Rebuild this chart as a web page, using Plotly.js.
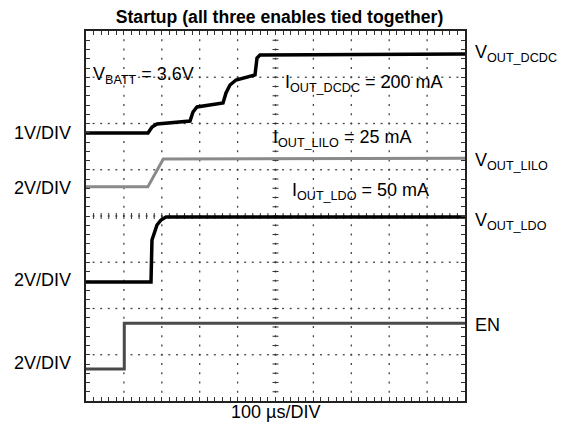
<!DOCTYPE html>
<html><head><meta charset="utf-8">
<script src="https://cdn.plot.ly/plotly-3.0.1.min.js"></script>
<style>html,body{margin:0;padding:0;background:#fff}#chart{width:565px;height:434px}</style>
</head><body><div id="chart"></div>
<script>
// Time in divisions (100 µs/DIV), voltage in screen divisions
const dcdcT = [0, 1.636, 1.742, 1.873, 2.744, 2.823, 2.929, 3.615, 3.694, 3.799, 3.958, 4.380, 4.459, 4.512, 4.591, 10];
const dcdcV = [5.795, 5.795, 5.924, 5.989, 6.054, 6.249, 6.357, 6.443, 6.659, 6.832, 6.941, 7.027, 7.049, 7.416, 7.481, 7.503];
const liloT = [0, 1.63, 2.04, 10];
const liloV = [4.63, 4.63, 5.23, 5.25];
const ldoT = [0, 1.715, 1.741, 1.794, 1.873, 1.979, 2.111, 10];
const ldoV = [2.573, 2.573, 3.481, 3.632, 3.805, 3.914, 3.978, 3.978];
const enT = [0, 1.01, 1.01, 10];
const enV = [0.69, 0.69, 1.68, 1.68];
// screen graticule
const xDivs = [1, 2, 3, 4, 5, 6, 7, 8, 9];
const yDivs = [1, 2, 3, 4, 5, 6, 7];
const xCenter = 5, yCenter = 4, subDiv = 5, nXDiv = 10, nYDiv = 8;

const FONT = 'Liberation Sans, Arial, sans-serif';
const FS = 18;
const traces = [
  {x: dcdcT, y: dcdcV, mode: 'lines', line: {color: '#000', width: 3.5}, hoverinfo: 'skip'},
  {x: liloT, y: liloV, mode: 'lines', line: {color: '#8a8a8a', width: 3}, hoverinfo: 'skip'},
  {x: ldoT, y: ldoV, mode: 'lines', line: {color: '#000', width: 3.5}, hoverinfo: 'skip'},
  {x: enT, y: enV, mode: 'lines', line: {color: '#4a4a4a', width: 3}, hoverinfo: 'skip'}
];

const frameAx = {
  showline: true, linecolor: '#222', linewidth: 2, mirror: 'ticks',
  ticks: 'inside', ticklen: 4, tickcolor: '#333', tickwidth: 1,
  showticklabels: false, zeroline: false, fixedrange: true, showgrid: false,
  minor: {dtick: 0.2, ticks: 'inside', ticklen: 4, tickcolor: '#333', tickwidth: 1, showgrid: false}
};

const dotLine = {color: '#444', width: 1.3};
const tickLine = {color: '#333', width: 1};
const xSub = Array.from({length: nXDiv * subDiv - 1}, (_, i) => (i + 1) / subDiv);
const ySub = Array.from({length: nYDiv * subDiv - 1}, (_, i) => (i + 1) / subDiv);
const shapes = [];
// dotted graticule lines (one short dash per sub-division)
xDivs.forEach(gx => ySub.forEach(sy => shapes.push({type: 'line', layer: 'below', xref: 'x', yref: 'y',
  ysizemode: 'pixel', yanchor: sy, x0: gx, x1: gx, y0: -1, y1: 1, line: dotLine})));
yDivs.forEach(gy => xSub.forEach(sx => shapes.push({type: 'line', layer: 'below', xref: 'x', yref: 'y',
  xsizemode: 'pixel', xanchor: sx, y0: gy, y1: gy, x0: -1, x1: 1, line: dotLine})));
// centre crosshair ticks
xSub.forEach(v => shapes.push({type: 'line', layer: 'below', xref: 'x', yref: 'y', ysizemode: 'pixel', yanchor: yCenter,
  x0: v, x1: v, y0: -3, y1: 3, line: tickLine}));
ySub.forEach(v => shapes.push({type: 'line', layer: 'below', xref: 'x', yref: 'y', xsizemode: 'pixel', xanchor: xCenter,
  y0: v, y1: v, x0: -3, x1: 3, line: tickLine}));

const layout = {
  width: 565, height: 434,
  margin: {l: 86, r: 100, t: 31, b: 33},
  paper_bgcolor: '#fff', plot_bgcolor: '#fff',
  showlegend: false,
  font: {family: FONT, size: FS, color: '#000'},
  title: {text: '<b>Startup (all three enables tied together)</b>', font: {family: FONT, size: 17.6, color: '#000'},
          x: 0.5106, xref: 'paper', xanchor: 'center', y: 0.961, yref: 'container', yanchor: 'middle'},
  xaxis: Object.assign({}, frameAx, {range: [0, 10], dtick: 1, tick0: 0}),
  yaxis: Object.assign({}, frameAx, {range: [0, 8], dtick: 1, tick0: 0}),
  shapes: shapes,
  annotations: [
    {text: '1V/DIV', x: -0.034, y: 0.724, xanchor: 'right'},
    {text: '2V/DIV', x: -0.034, y: 0.576, xanchor: 'right'},
    {text: '2V/DIV', x: -0.034, y: 0.327, xanchor: 'right'},
    {text: '2V/DIV', x: -0.034, y: 0.103, xanchor: 'right'},
    {text: 'V<sub>OUT_DCDC</sub>', x: 1.022, y: 0.94, xanchor: 'left'},
    {text: 'V<sub>OUT_LILO</sub>', x: 1.022, y: 0.648, xanchor: 'left'},
    {text: 'V<sub>OUT_LDO</sub>', x: 1.022, y: 0.486, xanchor: 'left'},
    {text: 'EN', x: 1.022, y: 0.205, xanchor: 'left'},
    {text: 'V<sub>BATT</sub> = 3.6V', x: 0.013, y: 0.88, xanchor: 'left'},
    {text: 'I<sub>OUT_DCDC</sub> = 200 mA', x: 0.52, y: 0.857, xanchor: 'left'},
    {text: 'I<sub>OUT_LILO</sub> = 25 mA', x: 0.488, y: 0.71, xanchor: 'left'},
    {text: 'I<sub>OUT_LDO</sub> = 50 mA', x: 0.539, y: 0.567, xanchor: 'left'},
    {text: '100 µs/DIV', x: 0.5, y: -0.03, xanchor: 'center'}
  ].map(a => Object.assign({xref: 'paper', yref: 'paper', yanchor: 'middle', showarrow: false,
                            font: {family: FONT, size: FS, color: '#000'}}, a))
};

Plotly.newPlot('chart', traces, layout, {staticPlot: true, displayModeBar: false});
</script></body></html>
